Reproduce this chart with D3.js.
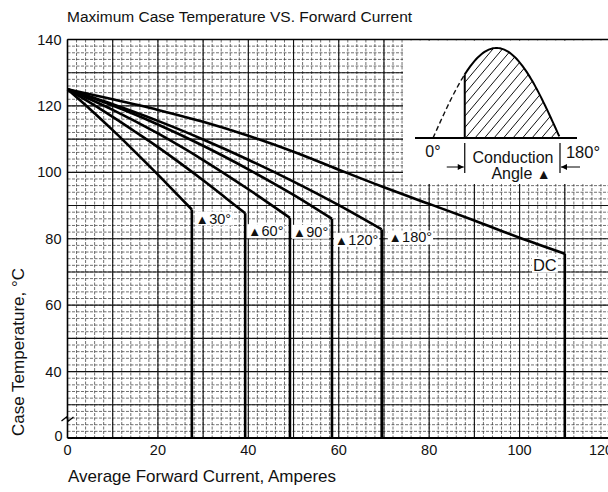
<!DOCTYPE html>
<html>
<head>
<meta charset="utf-8">
<script src="https://cdn.jsdelivr.net/npm/d3@7"></script>
<style>
  body { margin: 0; background: #fff; }
  text { font-family: "Liberation Sans", Arial, sans-serif; fill: #111; }
</style>
</head>
<body>
<div id="chart"></div>
<script>
// curves: average forward current (A) vs max case temperature (C)
var names = ["30°", "60°", "90°", "120°", "180°", "DC"]

var amps30 = [0, 5, 10, 15, 20, 25, 27.5]
var temp30 = [125, 119.0, 112.7, 106.1, 99.3, 92.3, 88.8]

var amps60 = [0, 5, 10, 15, 20, 25, 30, 35, 39.3]
var temp60 = [125, 121.0, 116.7, 112.2, 107.6, 102.7, 97.6, 92.3, 87.7]

var amps90 = [0, 10, 20, 30, 40, 49.2]
var temp90 = [125, 118.8, 111.7, 103.7, 94.9, 86.3]

var amps120 = [0, 10, 20, 30, 40, 50, 58.5]
var temp120 = [125, 120.1, 114.4, 108.0, 100.9, 93.2, 86.0]

var amps180 = [0, 10, 20, 30, 40, 50, 60, 69.5]
var temp180 = [125, 120.5, 115.5, 109.9, 103.8, 97.2, 90.1, 82.8]

var ampsDC = [0, 10, 20, 30, 40, 50, 60, 70, 80, 90, 100, 110]
var tempDC = [125, 122, 118.8, 115.2, 111, 106.2, 100.8, 95.5, 90.5, 85.5, 80.3, 75.5]

var xTicks = [0, 20, 40, 60, 80, 100, 120]
var yTicks = [40, 60, 80, 100, 120, 140]

// label offsets from each curve's corner, in px
var labelOffsets = [[4, 9], [3, 18], [3, 14], [3, 21], [7, 8], [-8, 12]]

var allAmps = [amps30, amps60, amps90, amps120, amps180, ampsDC]
var allTemps = [temp30, temp60, temp90, temp120, temp180, tempDC]

var series = names.map(function(n, i) {
  return {
    name: n,
    points: allAmps[i].map(function(a, j) { return { a: a, t: allTemps[i][j] } })
  }
})

var width = 608
var height = 492

var svg = d3.select("#chart")
  .append("svg")
  .attr("width", width)
  .attr("height", height)

// plot edges (px)
var pLeft = 67.5, pRight = 610, pTop = 39.5, pBottom = 438

var x = d3.scaleLinear().domain([0, 120]).range([pLeft, pRight])
// axis is broken below 40: bottom edge stands for 0
var y = d3.scaleLinear().domain([20, 140]).range([pBottom, pTop]).clamp(true)

// grid
var grid = svg.append("g")
grid.selectAll(".vminor")
  .data(d3.range(0, 121, 2))
  .enter().append("line")
  .attr("x1", d => x(d)).attr("x2", d => x(d))
  .attr("y1", pTop).attr("y2", pBottom)
  .attr("stroke", "#333").attr("stroke-width", 0.7)
  .attr("stroke-dasharray", "3,1.5")
grid.selectAll(".hminor")
  .data(d3.range(20, 141, 2))
  .enter().append("line")
  .attr("x1", pLeft).attr("x2", width)
  .attr("y1", d => y(d)).attr("y2", d => y(d))
  .attr("stroke", "#333").attr("stroke-width", 0.7)
  .attr("stroke-dasharray", "3,1.5")
grid.selectAll(".vmajor")
  .data(d3.range(10, 121, 10))
  .enter().append("line")
  .attr("x1", d => x(d)).attr("x2", d => x(d))
  .attr("y1", pTop).attr("y2", pBottom)
  .attr("stroke", "#111").attr("stroke-width", 1.1)
grid.selectAll(".hmajor")
  .data(d3.range(30, 141, 10))
  .enter().append("line")
  .attr("x1", pLeft).attr("x2", width)
  .attr("y1", d => y(d)).attr("y2", d => y(d))
  .attr("stroke", "#111").attr("stroke-width", 1.1)

// frame
svg.append("line").attr("x1", pLeft).attr("x2", pLeft).attr("y1", pTop).attr("y2", pBottom)
  .attr("stroke", "#000").attr("stroke-width", 1.6)
svg.append("line").attr("x1", pLeft).attr("x2", width).attr("y1", pBottom).attr("y2", pBottom)
  .attr("stroke", "#000").attr("stroke-width", 1.8)

// inset: conduction angle sketch
var inset = svg.append("g")
inset.append("rect")
  .attr("x", 403).attr("y", pTop + 1)
  .attr("width", width - 403).attr("height", 184 - pTop - 1)
  .attr("fill", "#fff")
svg.append("line").attr("x1", pLeft).attr("x2", width).attr("y1", pTop).attr("y2", pTop)
  .attr("stroke", "#000").attr("stroke-width", 1.4)

var th = d3.scaleLinear().domain([0, 180]).range([433, 560])
var amp = d3.scaleLinear().domain([0, 1]).range([138, 48])
var startAngle = 45
var wave = d3.line()
  .x(d => th(d))
  .y(d => amp(Math.sin(d * Math.PI / 180)))

var defs = svg.append("defs")
var conducting = d3.range(startAngle, 180.1, 2)
defs.append("clipPath").attr("id", "hatchclip")
  .append("path")
  .attr("d", wave(conducting) + "L" + th(180) + "," + amp(0) + "L" + th(startAngle) + "," + amp(0) + "Z")

inset.append("g").attr("clip-path", "url(#hatchclip)")
  .selectAll("line")
  .data(d3.range(380, 600, 9.5))
  .enter().append("line")
  .attr("x1", d => d).attr("y1", amp(0))
  .attr("x2", d => d + 80).attr("y2", amp(0) - 95)
  .attr("stroke", "#111").attr("stroke-width", 1)

inset.append("path")
  .attr("d", wave(d3.range(0, startAngle + 0.1, 2)))
  .attr("fill", "none").attr("stroke", "#111").attr("stroke-width", 1.4)
  .attr("stroke-dasharray", "5,3")
inset.append("path")
  .attr("d", wave(conducting))
  .attr("fill", "none").attr("stroke", "#000").attr("stroke-width", 2)
inset.append("line")
  .attr("x1", th(startAngle)).attr("x2", th(startAngle))
  .attr("y1", amp(0)).attr("y2", amp(Math.sin(startAngle * Math.PI / 180)))
  .attr("stroke", "#000").attr("stroke-width", 2)
inset.append("line")
  .attr("x1", 415).attr("x2", 577).attr("y1", amp(0)).attr("y2", amp(0))
  .attr("stroke", "#000").attr("stroke-width", 1.8)

// conduction angle markers
;[startAngle, 180].forEach(function(d) {
  inset.append("line")
    .attr("x1", th(d)).attr("x2", th(d)).attr("y1", 143).attr("y2", 173)
    .attr("stroke", "#000").attr("stroke-width", 1.2)
})
defs.append("marker").attr("id", "arr")
  .attr("viewBox", "0 0 10 10").attr("refX", 10).attr("refY", 5)
  .attr("markerWidth", 7).attr("markerHeight", 6).attr("orient", "auto")
  .append("path").attr("d", "M0,0L10,5L0,10Z").attr("fill", "#000")
inset.append("line")
  .attr("x1", th(startAngle) - 18).attr("x2", th(startAngle) - 1).attr("y1", 167).attr("y2", 167)
  .attr("stroke", "#000").attr("stroke-width", 1).attr("marker-end", "url(#arr)")
inset.append("line")
  .attr("x1", th(180) + 20).attr("x2", th(180) + 1).attr("y1", 167).attr("y2", 167)
  .attr("stroke", "#000").attr("stroke-width", 1).attr("marker-end", "url(#arr)")

inset.append("text").attr("x", th(0)).attr("y", 157).attr("text-anchor", "middle")
  .style("font-size", "16px").text("0°")
inset.append("text").attr("x", 583).attr("y", 158).attr("text-anchor", "middle")
  .style("font-size", "16.5px").text("180°")
inset.append("text").attr("x", 513).attr("y", 163).attr("text-anchor", "middle")
  .style("font-size", "16px").text("Conduction")
var angleText = inset.append("text").attr("x", 521).attr("y", 179).attr("text-anchor", "middle")
  .style("font-size", "16px")
angleText.append("tspan").text("Angle ")
angleText.append("tspan").style("font-size", "14px").text("▲")

// curves
var line = d3.line()
  .x(d => x(d.a))
  .y(d => y(d.t))
  .curve(d3.curveMonotoneX)

var curves = svg.append("g")
curves.selectAll("path")
  .data(series)
  .enter().append("path")
  .attr("d", d => line(d.points))
  .attr("fill", "none")
  .attr("stroke", "#000")
  .attr("stroke-width", 2.6)
  .attr("stroke-linejoin", "round")

// drop to the axis at the rated current
curves.selectAll("line")
  .data(series)
  .enter().append("line")
  .attr("x1", d => x(d.points[d.points.length - 1].a))
  .attr("x2", d => x(d.points[d.points.length - 1].a))
  .attr("y1", d => y(d.points[d.points.length - 1].t))
  .attr("y2", y(0))
  .attr("stroke", "#000")
  .attr("stroke-width", 2.6)

// curve labels with white backing
var labels = svg.append("g")
series.forEach(function(s, i) {
  var c = s.points[s.points.length - 1]
  var off = labelOffsets[i]
  var g = labels.append("g")
  var t = g.append("text")
    .attr("x", x(c.a) + off[0])
    .attr("y", y(c.t) + off[1] + 5)
    .attr("text-anchor", off[0] < 0 ? "end" : "start")
    .style("font-size", s.name == "DC" ? "16.5px" : "14.5px")
  if (s.name != "DC") {
    t.append("tspan").style("font-size", "13px").text("▲")
    t.append("tspan").attr("dx", 0.5).text(s.name)
  } else {
    t.text(s.name)
  }
  var bb = t.node().getBBox()
  g.insert("rect", "text")
    .attr("x", bb.x - 1).attr("y", bb.y + 1)
    .attr("width", bb.width + 2).attr("height", bb.height - 2)
    .attr("fill", "#fff")
})

// axis break mark
var by = y(26)
svg.append("path")
  .attr("d", "M" + (pLeft - 6) + "," + (by + 3) + "L" + (pLeft - 1) + "," + (by - 1) +
    "L" + (pLeft + 1) + "," + (by + 3) + "L" + (pLeft + 6) + "," + (by - 1))
  .attr("fill", "none").attr("stroke", "#000").attr("stroke-width", 1.3)

// tick labels
svg.append("g").selectAll("text")
  .data(yTicks)
  .enter().append("text")
  .attr("x", pLeft - 6)
  .attr("y", d => y(d) + 5)
  .attr("text-anchor", "end")
  .style("font-size", "14.5px")
  .text(d => d)
svg.append("text").attr("x", pLeft - 5).attr("y", pBottom + 3)
  .attr("text-anchor", "end").style("font-size", "14.5px").text("0")

svg.append("g").selectAll("text")
  .data(xTicks)
  .enter().append("text")
  .attr("x", d => x(d) - (d == 120 ? 9 : 0))
  .attr("y", pBottom + 17)
  .attr("text-anchor", "middle")
  .style("font-size", "14.5px")
  .text(d => d)

// titles
svg.append("text")
  .attr("x", 67)
  .attr("y", 22)
  .style("font-size", "15.5px")
  .text("Maximum Case Temperature VS. Forward Current")

svg.append("text")
  .attr("x", 68)
  .attr("y", 482)
  .style("font-size", "17px")
  .text("Average Forward Current, Amperes")

svg.append("text")
  .attr("transform", "translate(24,352) rotate(-90)")
  .attr("text-anchor", "middle")
  .style("font-size", "17px")
  .text("Case Temperature, °C")
</script>
</body>
</html>
